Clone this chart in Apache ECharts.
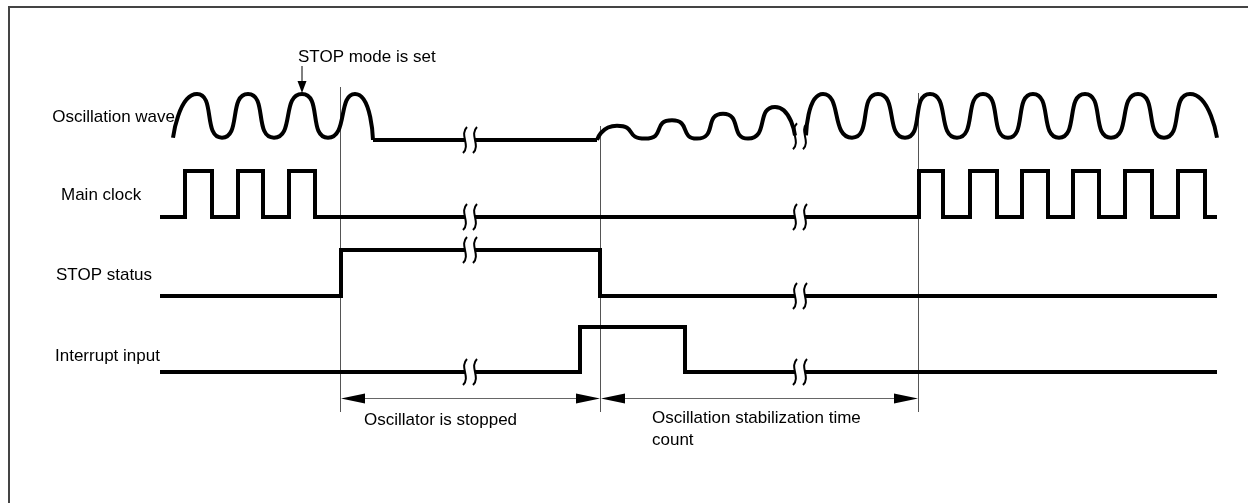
<!DOCTYPE html>
<html lang="en">
<head>
<meta charset="UTF-8">
<title>STOP mode release timing</title>
<script src="https://cdn.jsdelivr.net/npm/echarts@6.0.0/dist/echarts.min.js"></script>
<style>
    html, body { margin: 0; padding: 0; background: #fff; }
    #chart { width: 1248px; height: 503px; }
</style>
</head>
<body>
<div id="chart"></div>
<script>
// ---- data (time units along x, level 0..1 inside each lane) ----
const laneNames = ['Oscillation wave', 'Main clock', 'STOP status', 'Interrupt input'];

// oscillation wave, peaks and troughs [time, level]
const waveRun = [[173, 0.05], [197, 1], [222, 0.05], [248, 1], [274, 0.05], [302, 1], [328, 0.05], [355, 1], [373, 0]];
const waveFlat = [[373, 0], [597, 0]];
const waveStart = [[597, 0], [617, 0.31], [645, 0.03], [672, 0.43], [697, 0.03], [723, 0.57], [748, 0.03], [775, 0.72], [795, 0.1]];
const waveStable = [[806, 0.1], [823, 1], [852, 0.05], [878, 1], [905, 0.05], [930, 1], [957, 0.05], [983, 1],
    [1008, 0.05], [1033, 1], [1059, 0.05], [1085, 1], [1111, 0.05], [1138, 1], [1164, 0.05], [1190, 1], [1217, 0.05]];
const waveBreaks = [[470, 0], [800, 0.08]];

// digital signals, [time, new level] at every edge
const mainClock = [[160, 0], [185, 1], [212, 0], [238, 1], [263, 0], [289, 1], [315, 0],
    [919, 1], [943, 0], [970, 1], [997, 0], [1022, 1], [1048, 0], [1073, 1], [1099, 0],
    [1125, 1], [1152, 0], [1178, 1], [1205, 0], [1217, 0]];
const stopStatus = [[160, 0], [341, 1], [600, 0], [1217, 0]];
const interruptInput = [[160, 0], [580, 1], [685, 0], [1217, 0]];
const breakTimes = [470, 800];

// reference instants and spans
const markTimes = [340, 600, 918];
const spanTimes = [[340, 600], [600, 918]];
const spanLabels = ['Oscillator is stopped', 'Oscillation stabilization time\ncount'];
const stopSetTime = 302;
const stopSetLabel = 'STOP mode is set';

// ---- layout ----
const lanes = [
    { top: 94, height: 46 },
    { top: 171, height: 46 },
    { top: 250, height: 46 },
    { top: 327, height: 45 }
];
const markTops = [87, 126, 93];
const markBottom = 412;
const arrowY = 398;
const FONT = '17px "Liberation Sans", Arial, sans-serif';
const LINE = { width: 4, color: '#000', join: 'miter', cap: 'butt' };
const WAVE_SMOOTH = 0.75;

function levelAt(edges, t) {
    let l = edges[0][1];
    edges.forEach(function (e) { if (e[0] <= t) l = e[1]; });
    return l;
}

function stepPoints(edges) {
    const pts = [edges[0]];
    for (let i = 1; i < edges.length; i++) {
        const prev = pts[pts.length - 1][1];
        if (edges[i][1] !== prev) pts.push([edges[i][0], prev]);
        pts.push(edges[i]);
    }
    return pts;
}

function cutGaps(pts, gaps) {
    const pieces = [];
    let cur = [pts[0]];
    for (let i = 1; i < pts.length; i++) {
        const p = pts[i - 1], q = pts[i];
        gaps.forEach(function (g) {
            if (p[1] === q[1] && p[0] < g[0] && q[0] > g[1]) {
                cur.push([g[0], p[1]]);
                pieces.push(cur);
                cur = [[g[1], p[1]]];
            }
        });
        cur.push(q);
    }
    pieces.push(cur);
    return pieces;
}

const gaps = breakTimes.map(function (t) { return [t - 5, t + 5]; });

function lineSeries(grid, data, smooth) {
    return {
        type: 'line', xAxisIndex: grid, yAxisIndex: grid, data: data,
        smooth: smooth || false, symbol: 'none', clip: false,
        lineStyle: LINE, silent: true
    };
}

function breakSeries(grid, data) {
    return {
        type: 'custom', xAxisIndex: grid, yAxisIndex: grid, data: data, silent: true, clip: false,
        renderItem: function (params, api) {
            const c = api.coord([api.value(0), api.value(1)]);
            return {
                type: 'group',
                children: [-5, 5].map(function (dx) {
                    const x = c[0] + dx;
                    return {
                        type: 'bezierCurve',
                        shape: { x1: x + 2, y1: c[1] - 13, cpx1: x - 6, cpy1: c[1] - 5, cpx2: x + 6, cpy2: c[1] + 5, x2: x - 2, y2: c[1] + 13 },
                        style: { stroke: '#000', lineWidth: 2, fill: null }
                    };
                })
            };
        }
    };
}

const series = [];
// wave lane
series.push(lineSeries(0, waveRun, WAVE_SMOOTH));
cutGaps(waveFlat, gaps).forEach(function (p) { series.push(lineSeries(0, p)); });
series.push(lineSeries(0, waveStart, WAVE_SMOOTH));
series.push(lineSeries(0, waveStable, WAVE_SMOOTH));
series.push(breakSeries(0, waveBreaks));

// digital lanes
[mainClock, stopStatus, interruptInput].forEach(function (sig, i) {
    cutGaps(stepPoints(sig), gaps).forEach(function (p) { series.push(lineSeries(i + 1, p)); });
    series.push(breakSeries(i + 1, breakTimes.map(function (t) { return [t, levelAt(sig, t)]; })));
});

// overlay: reference lines and span arrows
const OV = 4;
series.push({
    type: 'custom', xAxisIndex: OV, yAxisIndex: OV, silent: true, clip: false,
    data: markTimes.map(function (t, i) { return [t, markTops[i]]; }),
    renderItem: function (params, api) {
        const a = api.coord([api.value(0), api.value(1)]);
        const b = api.coord([api.value(0), markBottom]);
        return {
            type: 'line', shape: { x1: a[0] + 0.5, y1: a[1], x2: b[0] + 0.5, y2: b[1] },
            style: { stroke: '#555', lineWidth: 1 }
        };
    }
});
series.push({
    type: 'custom', xAxisIndex: OV, yAxisIndex: OV, silent: true, clip: false,
    data: spanTimes,
    renderItem: function (params, api) {
        const a = api.coord([api.value(0), arrowY]);
        const b = api.coord([api.value(1), arrowY]);
        const y = a[1] + 0.5;
        return {
            type: 'group',
            children: [
                { type: 'line', shape: { x1: a[0] + 20, y1: y, x2: b[0] - 20, y2: y }, style: { stroke: '#666', lineWidth: 1 } },
                { type: 'polygon', shape: { points: [[a[0] + 1, y], [a[0] + 25, y - 5], [a[0] + 25, y + 5]] }, style: { fill: '#000' } },
                { type: 'polygon', shape: { points: [[b[0], y], [b[0] - 24, y - 5], [b[0] - 24, y + 5]] }, style: { fill: '#000' } }
            ]
        };
    }
});
series.push({
    type: 'custom', xAxisIndex: OV, yAxisIndex: OV, silent: true, clip: false,
    data: [[stopSetTime]],
    renderItem: function (params, api) {
        const a = api.coord([api.value(0), 66]);
        const b = api.coord([api.value(0), 93]);
        return {
            type: 'group',
            children: [
                { type: 'line', shape: { x1: a[0], y1: a[1], x2: b[0], y2: b[1] - 8 }, style: { stroke: '#000', lineWidth: 1 } },
                { type: 'polygon', shape: { points: [[b[0], b[1]], [b[0] - 4.5, b[1] - 12], [b[0] + 4.5, b[1] - 12]] }, style: { fill: '#000' } }
            ]
        };
    }
});

const grids = lanes.map(function (l) { return { left: 0, right: 0, top: l.top, height: l.height }; });
grids.push({ left: 0, right: 0, top: 0, bottom: 0 });

const xAxes = grids.map(function (g, i) {
    return { type: 'value', gridIndex: i, min: 0, max: 1248, show: false };
});
const yAxes = grids.map(function (g, i) {
    return i === OV
        ? { type: 'value', gridIndex: i, min: 0, max: 503, inverse: true, show: false }
        : { type: 'value', gridIndex: i, min: 0, max: 1, show: false };
});

const labelPos = [[175, 117, 'right'], [61, 195, 'left'], [56, 275, 'left'], [55, 356, 'left']];
const graphic = [
    { type: 'rect', shape: { x: 9, y: 7, width: 1300, height: 600 }, style: { fill: null, stroke: '#444', lineWidth: 2 }, silent: true }
];
laneNames.forEach(function (name, i) {
    graphic.push({
        type: 'text', x: labelPos[i][0], y: labelPos[i][1],
        style: { text: name, font: FONT, fill: '#000', textAlign: labelPos[i][2], textVerticalAlign: 'middle' }
    });
});
graphic.push({ type: 'text', x: 298, y: 57, style: { text: stopSetLabel, font: FONT, fill: '#000', textVerticalAlign: 'middle' } });
graphic.push({ type: 'text', x: 364, y: 420, style: { text: spanLabels[0], font: FONT, fill: '#000', textVerticalAlign: 'middle' } });
graphic.push({ type: 'text', x: 652, y: 407, style: { text: spanLabels[1], font: FONT, fill: '#000', lineHeight: 22, textVerticalAlign: 'top' } });

const chart = echarts.init(document.getElementById('chart'), null, { renderer: 'canvas' });
chart.setOption({
    animation: false,
    backgroundColor: '#fff',
    grid: grids,
    xAxis: xAxes,
    yAxis: yAxes,
    graphic: graphic,
    series: series
});
</script>
</body>
</html>
